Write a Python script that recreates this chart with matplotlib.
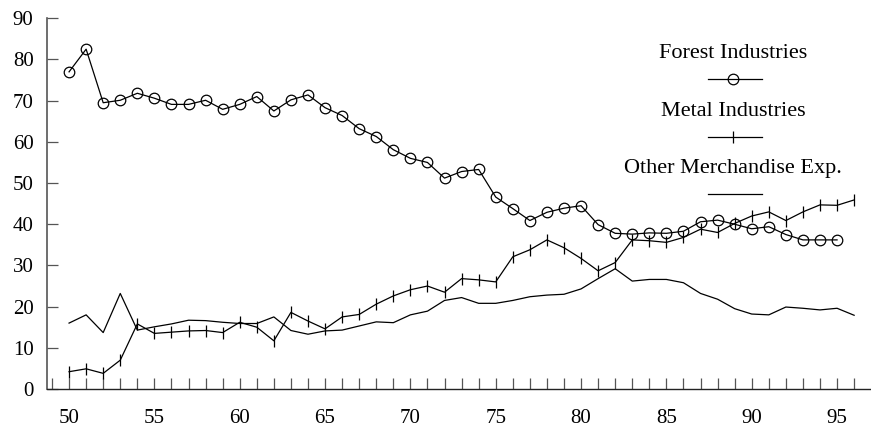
import matplotlib
matplotlib.use("Agg")
import matplotlib.pyplot as plt
from matplotlib.lines import Line2D
from matplotlib.ticker import MultipleLocator

plt.rcParams['font.family'] = ['Liberation Serif', 'DejaVu Serif']

years_forest = list(range(50, 96))
forest = [77.0, 82.5, 69.5, 70.1, 71.8, 70.6, 69.1, 69.1, 70.1, 67.9,
          69.1, 71.0, 67.5, 70.2, 71.4, 68.3, 66.4, 63.2, 61.3, 58.1,
          56.0, 55.0, 51.2, 52.8, 53.3, 46.6, 43.8, 40.9, 42.9, 43.9,
          44.5, 39.9, 37.8, 37.6, 37.9, 37.8, 38.3, 40.6, 41.0, 40.0,
          38.9, 39.4, 37.5, 36.2, 36.2, 36.2]

years_metal = list(range(50, 97))
metal = [4.2, 4.9, 3.8, 7.0, 15.8, 13.5, 13.8, 14.1, 14.2, 13.7,
         16.2, 15.0, 11.7, 18.6, 16.5, 14.6, 17.5, 18.1, 20.6, 22.6,
         24.1, 25.0, 23.5, 26.8, 26.5, 26.0, 32.1, 33.8, 36.2, 34.3,
         31.7, 28.7, 30.7, 36.2, 36.0, 35.6, 36.8, 38.8, 38.0, 40.2,
         42.0, 43.0, 40.9, 43.0, 44.7, 44.6, 45.9]

years_other = list(range(50, 97))
other = [16.0, 18.0, 13.7, 23.2, 14.3, 15.1, 15.8, 16.7, 16.6, 16.2,
         15.9, 15.9, 17.5, 14.2, 13.3, 14.1, 14.3, 15.3, 16.3, 16.1,
         18.0, 18.9, 21.5, 22.2, 20.8, 20.8, 21.5, 22.4, 22.8, 23.0,
         24.3, 26.8, 29.2, 26.2, 26.6, 26.6, 25.8, 23.2, 21.8, 19.5,
         18.2, 18.0, 19.9, 19.6, 19.2, 19.6, 17.9]

series_labels = ["Forest Industries", "Metal Industries", "Other Merchandise Exp."]
x_ticks = [50, 55, 60, 65, 70, 75, 80, 85, 90, 95]
y_ticks = [0, 10, 20, 30, 40, 50, 60, 70, 80, 90]

W, H = 871, 429
fig = plt.figure(figsize=(W / 100, H / 100), dpi=100)
ax = fig.add_axes([46.7 / W, 1 - 389 / H, (870 - 46.7) / W, (389 - 18.3) / H])

lw = 0.9
ax.plot(years_forest, forest, color='black', lw=lw, marker='o', markersize=7.6,
        markerfacecolor='none', markeredgecolor='black', markeredgewidth=0.9)
ax.plot(years_metal, metal, color='black', lw=lw, marker='|', markersize=8,
        markeredgewidth=0.9)
ax.plot(years_other, other, color='black', lw=lw)

ax.set_xlim(48.69, 96.93)
ax.set_ylim(0, 90)
ax.set_xticks(x_ticks)
ax.set_yticks(y_ticks)
ax.xaxis.set_minor_locator(MultipleLocator(1))

for side in ('top', 'right'):
    ax.spines[side].set_visible(False)
ax.spines['left'].set_color('#555555')
ax.spines['bottom'].set_color('#222222')
ax.spines['left'].set_linewidth(1.2)
ax.spines['bottom'].set_linewidth(1.0)

ax.tick_params(axis='both', which='both', direction='in', color='#555555', width=0.9)
ax.tick_params(axis='x', which='both', length=8, pad=14.5, labelsize=15)
ax.tick_params(axis='y', which='major', length=8, pad=9.5, labelsize=15)

# stacked legend: label above its line sample
cx = 733.3
rows = [(58.3, 79.3, dict(marker='o', markersize=7.6, markerfacecolor='none',
                          markeredgewidth=0.9)),
        (116.0, 137.0, dict(marker='|', markersize=8, markeredgewidth=0.9)),
        (173.3, 194.0, dict(marker=None))]
for label, (ty, ly, mk) in zip(series_labels, rows):
    fig.text(cx / W, 1 - ty / H, label, ha='center', va='baseline', fontsize=16)
    fig.add_artist(Line2D([707.7 / W, 761.7 / W], [1 - ly / H, 1 - ly / H],
                          transform=fig.transFigure, color='black', lw=lw))
    if mk['marker']:
        fig.add_artist(Line2D([cx / W], [1 - ly / H], transform=fig.transFigure,
                              color='black', linestyle='none', **mk))

fig.savefig('out.png', dpi=100)
